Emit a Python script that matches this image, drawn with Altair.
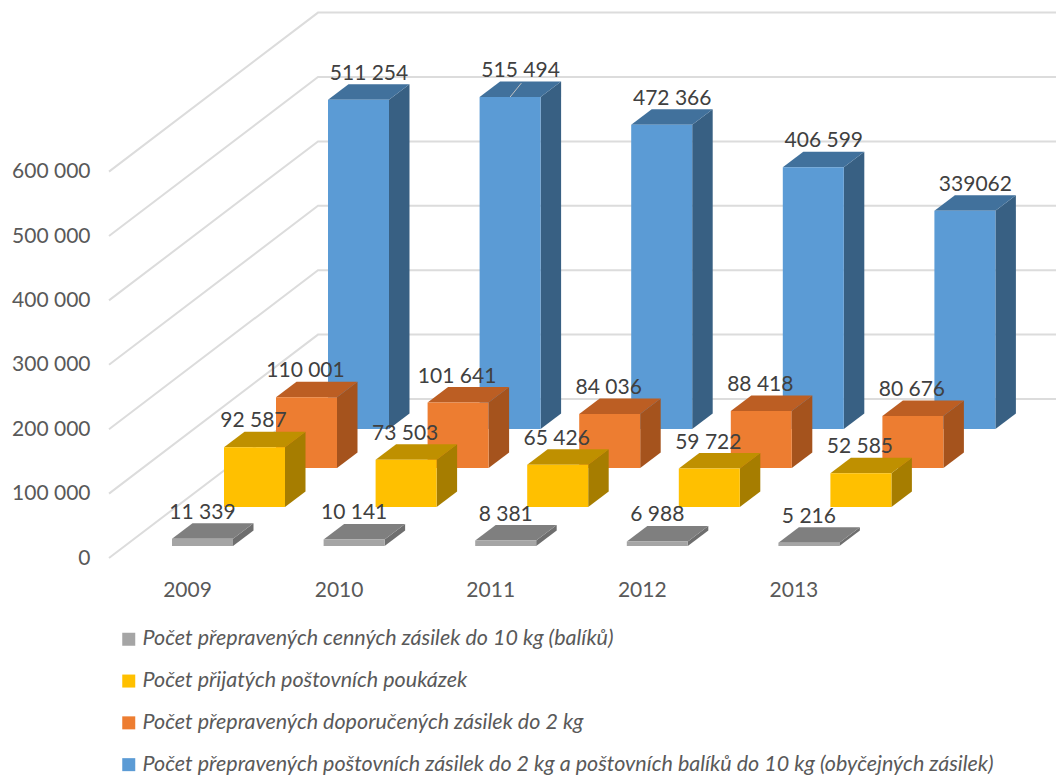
import altair as alt
import pandas as pd

YEARS = [2009, 2010, 2011, 2012, 2013]
SERIES = [
    "Počet přepravených cenných zásilek do 10 kg (balíků)",
    "Počet přijatých poštovních poukázek",
    "Počet přepravených doporučených zásilek do 2 kg",
    "Počet přepravených poštovních zásilek do 2 kg a poštovních balíků do 10 kg (obyčejných zásilek)",
]
GRAY = [11339, 10141, 8381, 6988, 5216]
YELLOW = [92587, 73503, 65426, 59722, 52585]
ORANGE = [110001, 101641, 84036, 88418, 80676]
BLUE = [511254, 515494, 472366, 406599, 339062]
VALUES = [GRAY, YELLOW, ORANGE, BLUE]
LABELS = [
    ["11 339", "10 141", "8 381", "6 988", "5 216"],
    ["92 587", "73 503", "65 426", "59 722", "52 585"],
    ["110 001", "101 641", "84 036", "88 418", "80 676"],
    ["511 254", "515 494", "472 366", "406 599", "339062"],
]
FRONT = ["#A5A5A5", "#FFC000", "#ED7D31", "#5B9BD5"]
TOP = ["#7F7F7F", "#BF9000", "#BC5E23", "#41719C"]
SIDE = ["#6E6E6E", "#A67D00", "#A5531D", "#386083"]
GRID_VALUES = [0, 100000, 200000, 300000, 400000, 500000, 600000]

# canvas and scales
W, H = 1048, 767
PX_PER_YEAR = 151.6
PX_PER_VALUE = 64.4 / 100000
ZERO_Y = 550       # chart pixel row of value 0 on the front edge
YEAR_X = 179       # chart pixel column of the first year label

def dx(p):
    return p / PX_PER_YEAR

def dy(p):
    return p / PX_PER_VALUE

X_MIN = YEARS[0] - dx(YEAR_X)
X_MAX = X_MIN + dx(W)
Y_MAX = dy(ZERO_Y)
Y_MIN = Y_MAX - dy(H)
x_scale = alt.Scale(domain=[X_MIN, X_MAX], nice=False, zero=False)
y_scale = alt.Scale(domain=[Y_MIN, Y_MAX], nice=False, zero=False)

# projection of the 3-D columns
BAR_W = dx(61)
BAR_X0 = dx(-15)
ROW_DX = dx(52)
ROW_DY = dy(39)
BASE = dy(12)
DEPTH_X = dx(20.5)
DEPTH_Y = dy(15.5)
WALL_L = X_MIN + dx(101)
WALL_B = X_MIN + dx(310)
WALL_UP = dy(159)
LABEL_DX = [dx(0), dx(-1), dx(-1), dx(10.5)]
LABEL_DY = dy(20)

# gridlines: up the side wall, then along the back wall
grid_rows = []
for v in GRID_VALUES:
    grid_rows += [
        {"v": v, "x": WALL_L, "y": v},
        {"v": v, "x": WALL_B, "y": v + WALL_UP},
        {"v": v, "x": X_MAX, "y": v + WALL_UP},
    ]
grid = pd.DataFrame(grid_rows)

x_axis = alt.Axis(
    values=YEARS, format="d", title=None, domain=False, ticks=False,
    grid=False, orient="bottom", offset=-(H - 571), labelPadding=0,
    labelFont="Lato", labelFontSize=21, labelColor="#595959",
    labelBaseline="top", labelFlush=False, labelOverlap=False,
)
y_axis = alt.Axis(
    values=GRID_VALUES, title=None, domain=False, ticks=False, grid=False,
    orient="left", offset=-82, labelPadding=0, labelFont="Lato",
    labelFontSize=21, labelColor="#595959", labelAlign="right",
    labelOverlap=False,
    labelExpr="replace(format(datum.value, ','), regexp(',', 'g'), ' ')",
)
base_x = alt.X("x:Q", scale=x_scale, axis=x_axis)
base_y = alt.Y("y:Q", scale=y_scale, axis=y_axis)

layers = [
    alt.Chart(grid).mark_line(color="#DCDCDC", strokeWidth=2).encode(
        x=base_x, y=base_y, detail="v:N",
    )
]

label_rows = []
for s in [3, 2, 1, 0]:
    front, top, side = [], [], []
    for i, year in enumerate(YEARS):
        v = VALUES[s][i]
        x0 = year + BAR_X0 + s * ROW_DX
        x1 = x0 + BAR_W
        bottom = BASE + s * ROW_DY
        t = bottom + v
        front.append({"x": x0, "x2": x1, "y": bottom, "y2": t, "series": SERIES[s]})
        top.append({"year": year, "x": x0, "x2": x1, "y": t})
        top.append({"year": year, "x": x0 + DEPTH_X, "x2": x1 + DEPTH_X, "y": t + DEPTH_Y})
        side.append({"year": year, "x": x1, "y": t, "y2": bottom})
        side.append({"year": year, "x": x1 + DEPTH_X, "y": t + DEPTH_Y, "y2": bottom + DEPTH_Y})
        label_rows.append({
            "x": (x0 + x1) / 2 + LABEL_DX[s], "y": t + LABEL_DY, "t": LABELS[s][i],
        })
    layers.append(
        alt.Chart(pd.DataFrame(side)).mark_area(orient="vertical", color=SIDE[s]).encode(
            x=base_x, y=base_y, y2="y2:Q", detail="year:N"
        )
    )
    layers.append(
        alt.Chart(pd.DataFrame(top)).mark_area(orient="horizontal", color=TOP[s]).encode(
            x=base_x, x2="x2:Q", y=base_y, detail="year:N"
        )
    )
    layers.append(
        alt.Chart(pd.DataFrame(front)).mark_rect().encode(
            x=base_x, x2="x2:Q", y=base_y, y2="y2:Q",
            color=alt.Color(
                "series:N",
                scale=alt.Scale(domain=SERIES, range=FRONT),
                legend=alt.Legend(
                    title=None, orient="none", legendX=110, legendY=620.5,
                    symbolType="square", symbolSize=169, symbolStrokeWidth=0,
                    rowPadding=18.8, labelOffset=3, labelFont="Lato", labelFontSize=21.5,
                    labelFontStyle="italic", labelColor="#595959", labelLimit=950,
                    columnPadding=0, padding=0,
                ),
            ),
        )
    )

# thin leader from the 2010 blue column to its moved label
i_lead = 1
lead_x = YEARS[i_lead] + BAR_X0 + 3 * ROW_DX + BAR_W / 2
lead_y = BASE + 3 * ROW_DY + BLUE[i_lead]
leader = pd.DataFrame([
    {"x": lead_x, "y": lead_y},
    {"x": lead_x + DEPTH_X * 0.55, "y": lead_y + DEPTH_Y * 0.9},
])
layers.append(
    alt.Chart(leader).mark_line(color="#C4C4C4", strokeWidth=1).encode(x=base_x, y=base_y)
)

layers.append(
    alt.Chart(pd.DataFrame(label_rows)).mark_text(
        font="Lato", fontSize=21, color="#404040", align="center", baseline="alphabetic"
    ).encode(x=base_x, y=base_y, text="t:N")
)

chart = (
    alt.layer(*layers)
    .properties(width=W, height=H, padding=0, autosize=alt.AutoSizeParams(type="none"), background="white")
    .configure_view(stroke=None)
)
chart.save("out.html", embed_options={"renderer": "svg", "actions": False})
